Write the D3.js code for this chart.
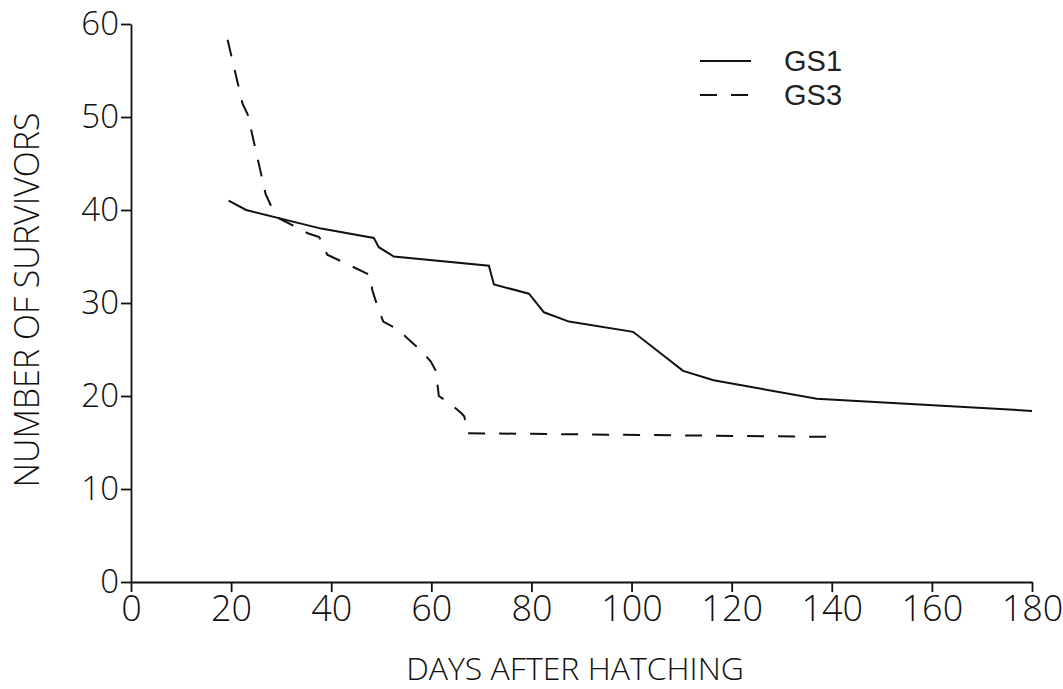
<!DOCTYPE html>
<html><head><meta charset="utf-8">
<script src="https://cdn.jsdelivr.net/npm/d3@7"></script>
<style>
body{margin:0;background:#fff;}
text{font-family:"Open Sans","Liberation Sans",sans-serif;font-weight:300;fill:#111;}
text.leg{font-family:"Liberation Sans",sans-serif;font-weight:normal;fill:#222;}
</style></head>
<body><svg id="c" width="1063" height="689"></svg>
<script>
const xTicks = [0,20,40,60,80,100,120,140,160,180];
const yTicks = [0,10,20,30,40,50,60];
const seriesNames = ["GS1","GS3"];
const gs1Days = [19.5,23,38,48.5,49.5,52.5,71.5,72.5,79.5,82.5,87.5,100.3,110.3,116.4,137,180];
const gs1Vals = [41,40,38,37,36,35,34,32,31,29,28,26.9,22.7,21.7,19.7,18.4];
const gs3Days = [19.3,22.3,23.3,26.9,28.1,29.6,35.3,37.6,39.2,47.8,48.2,49.2,50.4,53.2,57.9,59.9,60.9,61.5,63.5,65.9,66.6,67.2,140.3];
const gs3Vals = [58.3,51.4,50.3,41.7,40.3,39.1,37.5,37.1,35.2,33.0,31.4,29.7,28.0,27.2,24.9,23.7,22.7,20.0,19.3,18.2,17.8,16.0,15.6];

const svg = d3.select("#c");
const x = d3.scaleLinear().domain([0,180]).range([131,1032]);
const y = d3.scaleLinear().domain([0,60]).range([582,24]);

const xa = svg.append("g").attr("transform","translate(0,582)")
  .call(d3.axisBottom(x).tickValues(xTicks).tickSize(10).tickSizeOuter(0).tickPadding(3).tickFormat(d3.format("d")));
const ya = svg.append("g").attr("transform","translate(131,0)")
  .call(d3.axisLeft(y).tickValues(yTicks).tickSize(10).tickSizeOuter(0).tickPadding(2).tickFormat(d3.format("d")));
[xa,ya].forEach(a=>{
  a.select(".domain").attr("stroke","#111").attr("stroke-width",1.8);
  a.selectAll(".tick line").attr("stroke","#111").attr("stroke-width",1.8);
  a.selectAll("text").attr("fill","#111");
});
ya.selectAll("text").style("font-size","33px");
xa.selectAll("text").style("font-size","36px");

const line = d3.line().x(d=>x(d[0])).y(d=>y(d[1]));
const gs1 = gs1Days.map((d,i)=>[d,gs1Vals[i]]);
const gs3 = gs3Days.map((d,i)=>[d,gs3Vals[i]]);
svg.append("path").datum(gs1).attr("d",line).attr("fill","none").attr("stroke","#111").attr("stroke-width",2);
svg.append("path").datum(gs3).attr("d",line).attr("fill","none").attr("stroke","#111").attr("stroke-width",2).attr("stroke-dasharray","17,14");

svg.append("text").attr("x",575).attr("y",680).attr("text-anchor","middle").style("font-size","32px").text("DAYS AFTER HATCHING");
svg.append("text").attr("transform","translate(39,300) rotate(-90)").attr("text-anchor","middle").style("font-size","34px").text("NUMBER OF SURVIVORS");

const leg = svg.append("g");
const legY = [61,95];
seriesNames.forEach((n,i)=>{
  leg.append("line").attr("x1",700).attr("x2",751).attr("y1",legY[i]).attr("y2",legY[i])
    .attr("stroke","#111").attr("stroke-width",2).attr("stroke-dasharray",i? "17,14":null);
  leg.append("text").attr("class","leg").attr("x",784).attr("y",legY[i]).attr("dy","0.35em").style("font-size","29px").text(n);
});
</script></body></html>
